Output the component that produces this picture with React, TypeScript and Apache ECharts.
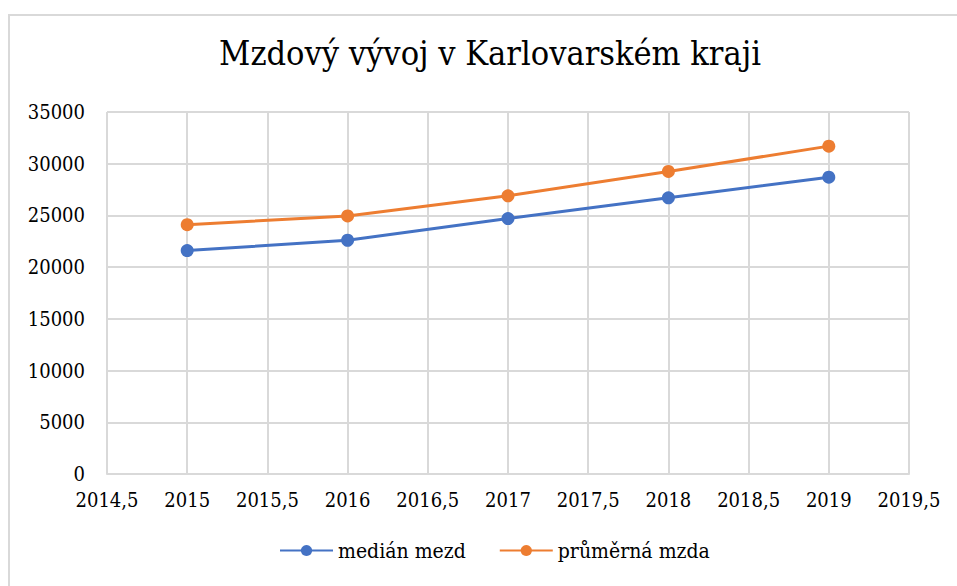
import React, { useEffect, useRef } from "react";
import * as echarts from "echarts";

const TITLE = "Mzdový vývoj v Karlovarském kraji";
const YEARS = [2015, 2016, 2017, 2018, 2019];
const MEDIAN_NAME = "medián mezd";
const MEDIAN = [21600, 22600, 24700, 26700, 28700];
const AVERAGE_NAME = "průměrná mzda";
const AVERAGE = [24100, 24950, 26900, 29250, 31700];
const X_MIN = 2014.5;
const X_MAX = 2019.5;
const X_STEP = 0.5;
const Y_MIN = 0;
const Y_MAX = 35000;
const Y_STEP = 5000;

const FONT = "DejaVu Serif Condensed, DejaVu Serif";
const GRID_COLOR = "#d9d9d9";

export default function App() {
  const ref = useRef<HTMLDivElement>(null);

  useEffect(() => {
    if (!ref.current) return;
    const chart = echarts.init(ref.current, undefined, { renderer: "svg" });
    const pairs = (vals: number[]) => YEARS.map((y, i) => [y, vals[i]]);
    chart.setOption({
      animation: false,
      backgroundColor: "#ffffff",
      textStyle: { fontFamily: FONT },
      graphic: [
        {
          type: "rect",
          shape: { x: 9, y: 15, width: 1000, height: 700 },
          style: { fill: "none", stroke: GRID_COLOR, lineWidth: 2 },
          silent: true,
        },
      ],
      title: {
        text: TITLE,
        left: 490,
        textAlign: "center",
        top: 36,
        padding: 0,
        textStyle: {
          fontFamily: FONT,
          fontSize: 34,
          fontWeight: "normal",
          color: "#000000",
        },
      },
      legend: {
        bottom: 20,
        left: 274,
        itemWidth: 53,
        itemHeight: 14,
        itemGap: 33,
        textStyle: { fontFamily: FONT, fontSize: 21, color: "#000000" },
        data: [MEDIAN_NAME, AVERAGE_NAME],
      },
      grid: { left: 107, right: 48, top: 112, bottom: 112, containLabel: false },
      xAxis: {
        type: "value",
        min: X_MIN,
        max: X_MAX,
        interval: X_STEP,
        axisLine: { show: true, lineStyle: { color: GRID_COLOR, width: 2 } },
        axisTick: { show: false },
        splitLine: { show: true, lineStyle: { color: GRID_COLOR, width: 2 } },
        axisLabel: {
          margin: 16,
          fontFamily: FONT,
          fontSize: 20,
          color: "#000000",
          formatter: (v: number) => String(v).replace(".", ","),
        },
      },
      yAxis: {
        type: "value",
        min: Y_MIN,
        max: Y_MAX,
        interval: Y_STEP,
        axisLine: { show: false },
        axisTick: { show: false },
        splitLine: { show: true, lineStyle: { color: GRID_COLOR, width: 2 } },
        axisLabel: {
          margin: 22,
          fontFamily: FONT,
          fontSize: 20,
          color: "#000000",
          formatter: (v: number) => String(v),
        },
      },
      series: [
        {
          name: MEDIAN_NAME,
          type: "line",
          data: pairs(MEDIAN),
          symbol: "circle",
          symbolSize: 13,
          itemStyle: { color: "#4472C4" },
          lineStyle: { color: "#4472C4", width: 3 },
        },
        {
          name: AVERAGE_NAME,
          type: "line",
          data: pairs(AVERAGE),
          symbol: "circle",
          symbolSize: 13,
          itemStyle: { color: "#ED7D31" },
          lineStyle: { color: "#ED7D31", width: 3 },
        },
      ],
    });
    return () => chart.dispose();
  }, []);

  return (
    <div
      ref={ref}
      style={{ position: "fixed", left: 0, top: 0, width: 957, height: 586 }}
    />
  );
}
